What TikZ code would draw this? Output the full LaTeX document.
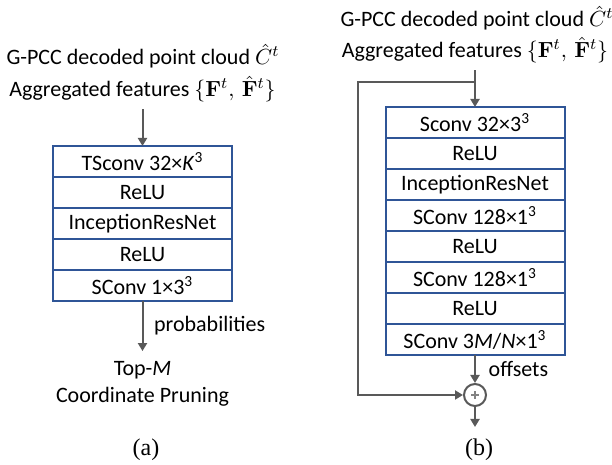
\documentclass[tikz,border=0pt]{standalone}
\usepackage{amsmath}
\usepackage[no-math]{fontspec}
\setmainfont{Carlito}
\newfontfamily\capfont{Liberation Serif}
\usetikzlibrary{arrows.meta}
\definecolor{boxblue}{HTML}{2F5597}
\definecolor{linegray}{HTML}{595959}

\begin{document}
\begin{tikzpicture}[x=0.5pt, y=-0.5pt, font=\fontsize{11}{13.6}\selectfont,
	layer/.style={draw=boxblue, line width=1pt, outer sep=0pt, inner sep=0pt, minimum width=89.5pt, minimum height=15.5pt},
	arr/.style={draw=linegray, line width=1pt, -{Triangle[length=4pt, width=4.5pt]}},
	caption/.style={font=\capfont\fontsize{12}{14}\selectfont}]
	\useasboundingbox (0,0) rectangle (612,465);

	% (a) coordinate generation
	\node[inner ysep=1pt] (srcA) at (143,56) {G-PCC decoded point cloud $\hat{C}^t$};
	\node (featA) at (142.5,89) {Aggregated features $\{\mathbf{F}^t,\,\hat{\mathbf{F}}^t\}$};
	\node[layer] (tconvA) at (142.5,161.5) {TSconv 32×\textit{K}\textsuperscript{3}};
	\node[layer] (reluA1) at (142.5,192.5) {ReLU};
	\node[layer] (incA) at (142.5,223.5) {InceptionResNet};
	\node[layer] (reluA2) at (142.5,254.5) {ReLU};
	\node[layer] (sconvA) at (142.5,285.5) {SConv 1×3\textsuperscript{3}};
	\node[align=center, inner ysep=5pt] (pruneA) at (142.5,384) {Top-\textit{M}\\Coordinate Pruning};
	\node[caption] (capA) at (146,450) {(a)};
	\draw[arr] (featA) -- (tconvA);
	\draw[arr] (sconvA) -- (pruneA) node[midway, right, xshift=2pt] {probabilities};

	% (b) offset refinement
	\node[inner ysep=1pt] (srcB) at (477,18) {G-PCC decoded point cloud $\hat{C}^t$};
	\node (featB) at (475,50) {Aggregated features $\{\mathbf{F}^t,\,\hat{\mathbf{F}}^t\}$};
	\node[layer] (sconvB1) at (475,122.5) {Sconv 32×3\textsuperscript{3}};
	\node[layer] (reluB1) at (475,153.5) {ReLU};
	\node[layer] (incB) at (475,184.5) {InceptionResNet};
	\node[layer] (sconvB2) at (475,215.5) {SConv 128×1\textsuperscript{3}};
	\node[layer] (reluB2) at (475,246.5) {ReLU};
	\node[layer] (sconvB3) at (475,277.5) {SConv 128×1\textsuperscript{3}};
	\node[layer] (reluB3) at (475,308.5) {ReLU};
	\node[layer] (sconvB4) at (475,339.5) {SConv 3\textit{M}/\textit{N}×1\textsuperscript{3}};
	\node[circle, draw=linegray, line width=1pt, minimum size=11pt, inner sep=0pt] (sumB) at (475,395) {};
	\draw[linegray!75, line width=0.6pt] ([yshift=-2pt]sumB.center) -- ([yshift=2pt]sumB.center)
		([xshift=-2pt]sumB.center) -- ([xshift=2pt]sumB.center);
	\coordinate (splitB) at (475,82);
	\coordinate (loopTop) at (358,82);
	\coordinate (loopBot) at (358,395);
	\coordinate (outB) at (475,427);
	\node[caption] (capB) at (479,450) {(b)};
	\draw[arr] (featB) -- (sconvB1);
	\draw[arr] (splitB) -- (loopTop) -- (loopBot) -- (sumB);
	\draw[arr] (sconvB4) -- (sumB) node[midway, right, xshift=3pt] {offsets};
	\draw[arr] (sumB) -- (outB);
\end{tikzpicture}
\end{document}
